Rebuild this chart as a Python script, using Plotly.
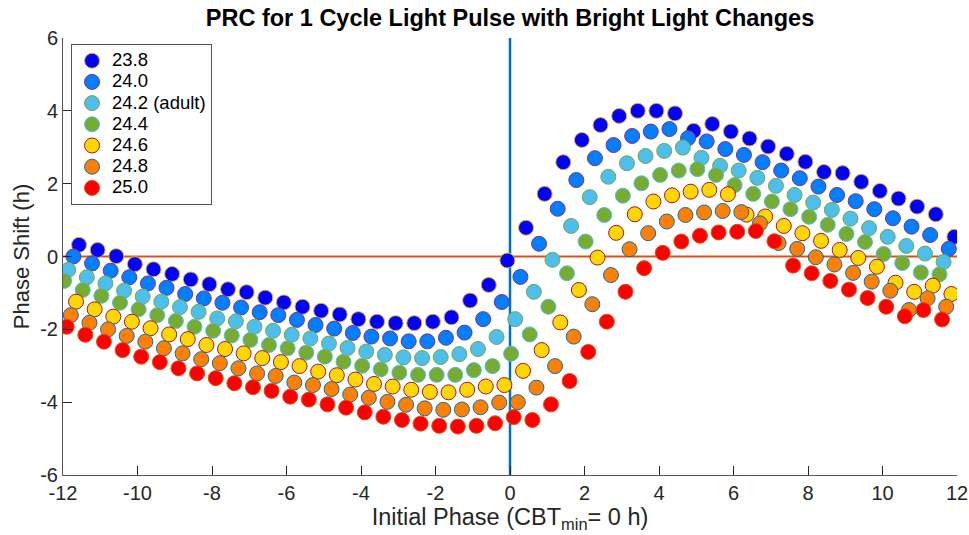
import numpy as np
import plotly.graph_objects as go

# Periods (h) and legend labels
labels = ["23.8", "24.0", "24.2 (adult)", "24.4", "24.6", "24.8", "25.0"]
# first initial phase (h) of each series; phases are on a 0.5 h grid
start_phase = [-11.57, -11.72, -11.86, -11.97, -11.65, -11.79, -11.90]
phase_step = 0.5

s238 = [0.32, 0.18, 0.01, -0.21, -0.35, -0.48, -0.63, -0.76, -0.90, -0.98, -1.13, -1.26,
        -1.38, -1.49, -1.59, -1.72, -1.79, -1.83, -1.83, -1.79, -1.67, -1.21, -0.78, -0.11,
        0.79, 1.72, 2.59, 3.20, 3.61, 3.86, 4.00, 4.00, 3.93, 3.45, 3.64, 3.43,
        3.24, 3.02, 2.82, 2.60, 2.32, 2.29, 2.05, 1.80, 1.59, 1.37, 1.16, 0.54]
s240 = [-0.00, -0.19, -0.39, -0.57, -0.74, -0.86, -1.03, -1.15, -1.27, -1.40, -1.53, -1.61,
        -1.74, -1.88, -1.98, -2.10, -2.20, -2.25, -2.33, -2.33, -2.23, -2.09, -1.72, -1.25,
        -0.56, 0.35, 1.31, 2.10, 2.70, 3.06, 3.31, 3.43, 3.50, 3.25, 3.16, 2.95,
        2.79, 2.59, 2.36, 2.15, 1.92, 1.69, 1.52, 1.30, 1.05, 0.82, 0.59, 0.21]
s242 = [-0.37, -0.57, -0.74, -0.94, -1.10, -1.24, -1.39, -1.52, -1.70, -1.78, -1.93, -2.04,
        -2.15, -2.25, -2.39, -2.51, -2.61, -2.70, -2.77, -2.79, -2.76, -2.68, -2.54, -2.21,
        -1.72, -0.97, -0.09, 0.84, 1.63, 2.19, 2.56, 2.76, 2.90, 2.99, 2.71, 2.49,
        2.36, 2.16, 1.94, 1.69, 1.48, 1.28, 1.04, 0.78, 0.54, 0.29, 0.08, -0.15]
s244 = [-0.67, -0.92, -1.08, -1.27, -1.45, -1.61, -1.77, -1.93, -2.04, -2.17, -2.29, -2.43,
        -2.52, -2.64, -2.75, -2.89, -3.00, -3.10, -3.19, -3.25, -3.25, -3.25, -3.12, -3.01,
        -2.67, -2.14, -1.38, -0.46, 0.41, 1.14, 1.67, 2.01, 2.24, 2.36, 2.40, 2.24,
        1.96, 1.72, 1.51, 1.30, 1.09, 0.87, 0.62, 0.40, 0.07, -0.18, -0.44, -0.49]
s246 = [-1.24, -1.45, -1.65, -1.79, -1.97, -2.14, -2.27, -2.43, -2.54, -2.66, -2.79, -2.90,
        -3.01, -3.16, -3.26, -3.38, -3.50, -3.57, -3.66, -3.72, -3.73, -3.66, -3.57, -3.53,
        -3.14, -2.57, -1.81, -0.92, -0.03, 0.65, 1.16, 1.51, 1.68, 1.78, 1.83, 1.71,
        1.15, 1.10, 0.84, 0.64, 0.43, 0.18, -0.04, -0.28, -0.72, -0.97, -0.80, -1.03]
s248 = [-1.61, -1.82, -2.00, -2.18, -2.34, -2.52, -2.66, -2.82, -2.93, -3.07, -3.21, -3.28,
        -3.46, -3.53, -3.64, -3.79, -3.88, -3.99, -4.07, -4.17, -4.21, -4.20, -4.14, -4.01,
        -4.00, -3.60, -3.01, -2.20, -1.31, -0.51, 0.20, 0.64, 0.96, 1.14, 1.21, 1.25,
        1.22, 0.91, 0.37, 0.21, -0.02, -0.22, -0.45, -0.69, -0.94, -1.47, -1.15, -1.38]
s250 = [-1.93, -2.15, -2.34, -2.57, -2.75, -2.90, -3.07, -3.21, -3.34, -3.48, -3.59, -3.69,
        -3.85, -3.93, -4.06, -4.15, -4.28, -4.40, -4.49, -4.59, -4.65, -4.67, -4.65, -4.58,
        -4.41, -4.49, -4.06, -3.42, -2.62, -1.79, -0.97, -0.32, 0.10, 0.41, 0.57, 0.66,
        0.68, 0.70, 0.42, -0.25, -0.46, -0.67, -0.91, -1.14, -1.38, -1.64, -1.47, -1.73]

series = [s238, s240, s242, s244, s246, s248, s250]

x_ticks = list(range(-12, 13, 2))
y_ticks = list(range(-6, 7, 2))

fill_colors = ["#0000FF", "#0080FF", "#4DBEEE", "#77AC30", "#FFD700", "#FF8000", "#FF0000"]
edge_colors = ["#EDB120", "#7E2F8E", "#77AC30", "#4DBEEE", "#A2142F", "#0072BD", "#D95319"]

FONT = "Liberation Sans, Arial, Helvetica, sans-serif"
TXT = "#262626"

fig = go.Figure()
for lab, x0, ys, fc, ec in zip(labels, start_phase, series, fill_colors, edge_colors):
    xs = x0 + phase_step * np.arange(len(ys))
    fig.add_trace(go.Scatter(
        x=xs, y=ys, mode="markers",
        name='<span style="font-size:18.5px">%s</span>' % lab,
        marker=dict(size=15, color=fc, line=dict(color=ec, width=1)),
    ))

fig.add_shape(type="line", x0=-12, x1=12, y0=0, y1=0, xref="x", yref="y",
              line=dict(color="#D95319", width=2), layer="below")
fig.add_shape(type="line", x0=0, x1=0, y0=-6, y1=6, xref="x", yref="y",
              line=dict(color="#0072BD", width=2.5), layer="below")

fig.update_layout(
    width=969, height=535,
    margin=dict(l=63, r=12, t=38, b=60, autoexpand=False),
    paper_bgcolor="white", plot_bgcolor="white",
    font=dict(family=FONT, color=TXT, size=20),
    title=dict(text="<b>PRC for 1 Cycle Light Pulse with Bright Light Changes</b>",
               x=0.5, xref="paper", xanchor="center",
               y=1 - 18 / 535, yref="container", yanchor="middle",
               font=dict(size=23.5, color="black", family=FONT)),
    showlegend=True,
    legend=dict(x=0.009, y=0.986, xanchor="left", yanchor="top",
                bgcolor="white", bordercolor="#555555", borderwidth=1,
                font=dict(size=14, color="black", family=FONT),
                itemsizing="trace", tracegroupgap=0),
)
fig.update_xaxes(range=[-12, 12], tickmode="array", tickvals=x_ticks,
                 ticktext=[str(v) for v in x_ticks], automargin=False,
                 ticks="inside", ticklen=9, tickcolor=TXT, showline=True,
                 linecolor="#555555", linewidth=1, showgrid=False, zeroline=False,
                 tickfont=dict(size=20, color=TXT),
                 title=dict(text="Initial Phase (CBT<sub>min</sub>= 0 h)",
                            font=dict(size=23.5, color=TXT), standoff=0))
fig.update_yaxes(range=[-6, 6], tickmode="array", tickvals=y_ticks,
                 ticktext=[str(v) for v in y_ticks], automargin=False,
                 ticks="inside", ticklen=9, tickcolor=TXT, showline=True,
                 linecolor="#555555", linewidth=1, showgrid=False, zeroline=False,
                 tickfont=dict(size=20, color=TXT),
                 title=dict(text="Phase Shift (h)", font=dict(size=22, color=TXT), standoff=4))

fig.write_html("out.html")
